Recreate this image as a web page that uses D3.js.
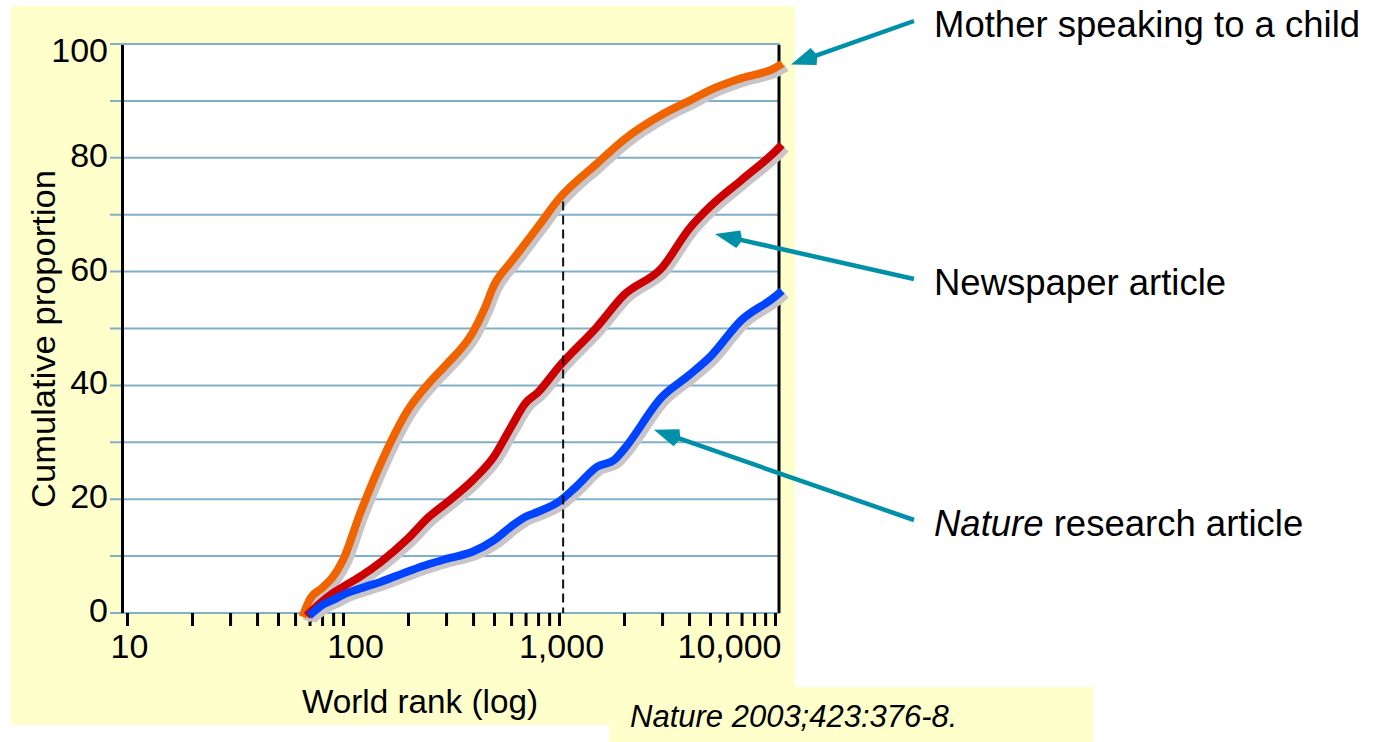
<!DOCTYPE html>
<html>
<head>
<meta charset="utf-8">
<script src="https://cdn.jsdelivr.net/npm/d3@7"></script>
<style>
	body { margin: 0; background: #ffffff; }
	svg { display: block; }
	text { font-family: Arial, "Liberation Sans", sans-serif; fill: #000000; }
</style>
</head>
<body>
<div id="chart"></div>
<script>

// Data: world rank (log) -> cumulative proportion (%)
//
var motherRanks  = [ 66, 70, 80, 90, 100, 120, 150, 200, 250, 300, 400, 450, 500, 600, 700, 800, 1000, 1500, 2000, 3000, 4000, 5000, 7000, 10000, 10435 ];
var motherValues = [ 0, 2.3, 4.4, 6.4, 9.3, 17.5, 26.4, 35.7, 40.4, 43.6, 49.4, 53.3, 57.6, 61.7, 65.0, 67.9, 72.8, 79.0, 83.2, 87.6, 90.0, 91.9, 94.0, 95.8, 96.2 ];

var newsRanks  = [ 70, 80, 90, 100, 120, 150, 200, 250, 300, 400, 500, 600, 700, 800, 1000, 1500, 2000, 3000, 4000, 5000, 7000, 10000, 10435 ];
var newsValues = [ 0, 2.0, 3.5, 4.6, 6.4, 9.0, 13.1, 16.9, 19.3, 23.4, 27.5, 32.7, 36.9, 38.8, 43.3, 50.3, 55.9, 60.7, 67.5, 71.4, 76.1, 81.1, 81.8 ];

var natureRanks  = [ 72, 80, 90, 100, 120, 150, 200, 250, 300, 400, 500, 600, 700, 800, 1000, 1200, 1500, 1800, 2000, 3000, 4000, 5000, 7000, 10000, 10435 ];
var natureValues = [ 0, 1.4, 2.3, 3.2, 4.3, 5.5, 7.3, 8.6, 9.5, 10.8, 12.8, 15.2, 16.9, 17.8, 19.6, 22.2, 25.7, 26.9, 28.8, 38.0, 41.8, 45.0, 51.5, 55.6, 56.2 ];

var xMajorTicks  = [ 10, 100, 1000, 10000 ];
var xTickLabels  = [ "10", "100", "1,000", "10,000" ];
var yTickValues  = [ 0, 20, 40, 60, 80, 100 ];
var yGridValues  = [ 0, 10, 20, 30, 40, 50, 60, 70, 80, 90, 100 ];

var markerRank  = 1045;
var markerValue = 72.3;

var annotationLabels = [ "Mother speaking to a child", "Newspaper article", "research article" ];
var annotationItalic = [ "", "", "Nature" ];
var annotationTipRanks  = [ 11860, 5270, 2750 ];
var annotationTipValues = [ 96.4, 66.6, 32.2 ];

var citation = "Nature 2003;423:376-8.";

var zip = function( ranks, values )
{
	return ranks.map( function( r, i ) { return [ r, values[ i ] ]; } );
};

var series = [
	{ name: "mother", color: "#f06400", points: zip( motherRanks, motherValues ) },
	{ name: "news",   color: "#cc0000", points: zip( newsRanks, newsValues ) },
	{ name: "nature", color: "#0044ff", points: zip( natureRanks, natureValues ) }
];

var svg = d3.select( "#chart" ).append( "svg" )
	.attr( "width", 1380 )
	.attr( "height", 742 );

// Yellow backing panels
//
var yellow = "#ffffcc";
svg.append( "rect" ).attr( "x", 11 ).attr( "y", 6 ).attr( "width", 784 ).attr( "height", 681 ).attr( "fill", yellow );
svg.append( "rect" ).attr( "x", 11 ).attr( "y", 686 ).attr( "width", 598 ).attr( "height", 39 ).attr( "fill", yellow );
svg.append( "rect" ).attr( "x", 609 ).attr( "y", 687 ).attr( "width", 484 ).attr( "height", 55 ).attr( "fill", yellow );

var x = d3.scaleLog().domain( [ 10, 10435 ] ).range( [ 127, 779 ] );
var y = d3.scaleLinear().domain( [ 0, 100 ] ).range( [ 613, 44 ] );

// Plot area
//
svg.append( "rect" )
	.attr( "x", 124 )
	.attr( "y", y( 100 ) + 1 )
	.attr( "width", x.range()[ 1 ] - 124 )
	.attr( "height", y( 0 ) - y( 100 ) - 1 )
	.attr( "fill", "#ffffff" );

svg.append( "g" )
	.selectAll( "line" )
	.data( yGridValues )
	.enter()
	.append( "line" )
	.attr( "x1", 110 )
	.attr( "x2", x.range()[ 1 ] + 1 )
	.attr( "y1", function( d ) { return y( d ); } )
	.attr( "y2", function( d ) { return y( d ); } )
	.attr( "stroke", "#80b0c8" )
	.attr( "stroke-width", 2 );

// Frame: left axis and right border
//
svg.append( "line" )
	.attr( "x1", 122.5 ).attr( "x2", 122.5 )
	.attr( "y1", y( 100 ) + 1 ).attr( "y2", y( 0 ) )
	.attr( "stroke", "#000" ).attr( "stroke-width", 3 );

svg.append( "line" )
	.attr( "x1", x.range()[ 1 ] ).attr( "x2", x.range()[ 1 ] )
	.attr( "y1", y( 100 ) + 1 ).attr( "y2", y( 0 ) )
	.attr( "stroke", "#000" ).attr( "stroke-width", 3 );

// X axis (log)
//
var xTicks = x.ticks().filter( function( d ) { return d <= 10000; } );

var xAxis = svg.append( "g" )
	.attr( "transform", "translate(0," + y( 0 ) + ")" )
	.call( d3.axisBottom( x )
		.tickValues( xTicks )
		.tickSize( 13 )
		.tickFormat( function( d ) {
			var i = xMajorTicks.indexOf( d );
			return i < 0 ? "" : xTickLabels[ i ];
		} ) );

xAxis.select( ".domain" ).remove();
xAxis.selectAll( ".tick line" ).attr( "stroke", "#000" ).attr( "stroke-width", 3 );
xAxis.selectAll( ".tick text" )
	.attr( "y", 45 )
	.attr( "dy", null )
	.attr( "font-size", 34 )
	.attr( "font-family", null )
	.attr( "text-anchor", function( d ) { return d == 10000 ? "end" : "middle"; } )
	.attr( "dx", function( d ) { return d == 10000 ? 6 : ( d == 100 ? 12 : 2 ); } );

// Y axis labels
//
var yAxis = svg.append( "g" )
	.attr( "transform", "translate(108,0)" )
	.call( d3.axisLeft( y ).tickValues( yTickValues ).tickSize( 0 ).tickPadding( 0 ) );

yAxis.select( ".domain" ).remove();
yAxis.selectAll( ".tick text" )
	.attr( "font-size", 34 )
	.attr( "font-family", null )
	.attr( "dy", function( d ) { return d == 100 ? "0.5em" : "0.25em"; } );

// Axis titles
//
svg.append( "text" )
	.attr( "x", 420 )
	.attr( "y", 713 )
	.attr( "text-anchor", "middle" )
	.attr( "font-size", 34 )
	.attr( "textLength", 236 )
	.attr( "lengthAdjust", "spacingAndGlyphs" )
	.text( "World rank (log)" );

svg.append( "text" )
	.attr( "transform", "translate(55,339) rotate(-90)" )
	.attr( "text-anchor", "middle" )
	.attr( "font-size", 34 )
	.attr( "textLength", 338 )
	.attr( "lengthAdjust", "spacingAndGlyphs" )
	.text( "Cumulative proportion" );

// Curves with grey drop shadow
//
var line = d3.line()
	.x( function( d ) { return x( d[ 0 ] ); } )
	.y( function( d ) { return y( d[ 1 ] ); } )
	.curve( d3.curveMonotoneX );

svg.append( "g" )
	.attr( "transform", "translate(4,4)" )
	.selectAll( "path" )
	.data( series )
	.enter()
	.append( "path" )
	.attr( "d", function( s ) { return line( s.points ); } )
	.attr( "fill", "none" )
	.attr( "stroke", "#c8c4c8" )
	.attr( "stroke-width", 8 )
	.attr( "stroke-linecap", "square" );

svg.append( "g" )
	.selectAll( "path" )
	.data( series )
	.enter()
	.append( "path" )
	.attr( "d", function( s ) { return line( s.points ); } )
	.attr( "fill", "none" )
	.attr( "stroke", function( s ) { return s.color; } )
	.attr( "stroke-width", 8 )
	.attr( "stroke-linecap", "square" );

// Dashed marker near rank 1,000
//
svg.append( "line" )
	.attr( "x1", x( markerRank ) ).attr( "x2", x( markerRank ) )
	.attr( "y1", y( markerValue ) ).attr( "y2", y( 0 ) )
	.attr( "stroke", "#111" )
	.attr( "stroke-width", 2 )
	.attr( "stroke-dasharray", "9,5" );

// Annotations with arrows
//
var teal = "#0090a8";
var labelX = 934;
var labelBaselines = [ 37, 295, 536 ];
var tailX = 914;
var tailYs = [ 21, 279, 520 ];

annotationLabels.forEach( function( label, i ) {

	var tip = [ x( annotationTipRanks[ i ] ), y( annotationTipValues[ i ] ) ];
	var tail = [ tailX, tailYs[ i ] ];
	var angle = Math.atan2( tail[ 1 ] - tip[ 1 ], tail[ 0 ] - tip[ 0 ] );
	var headLength = 24, headHalf = 9;
	var base = [ tip[ 0 ] + Math.cos( angle ) * headLength, tip[ 1 ] + Math.sin( angle ) * headLength ];
	var nx = -Math.sin( angle ), ny = Math.cos( angle );

	svg.append( "line" )
		.attr( "x1", tail[ 0 ] ).attr( "y1", tail[ 1 ] )
		.attr( "x2", base[ 0 ] - Math.cos( angle ) * 2 ).attr( "y2", base[ 1 ] - Math.sin( angle ) * 2 )
		.attr( "stroke", teal )
		.attr( "stroke-width", 4.5 );

	svg.append( "polygon" )
		.attr( "points", [
			tip,
			[ base[ 0 ] + nx * headHalf, base[ 1 ] + ny * headHalf ],
			[ base[ 0 ] + Math.cos( angle ) * 4, base[ 1 ] + Math.sin( angle ) * 4 ],
			[ base[ 0 ] - nx * headHalf, base[ 1 ] - ny * headHalf ]
		].map( function( p ) { return p.join( "," ); } ).join( " " ) )
		.attr( "fill", teal );

	var text = svg.append( "text" )
		.attr( "x", labelX )
		.attr( "y", labelBaselines[ i ] )
		.attr( "font-size", 36.5 );

	if( annotationItalic[ i ] )
	{
		text.append( "tspan" ).attr( "font-style", "italic" ).text( annotationItalic[ i ] + " " );
	}
	text.append( "tspan" ).text( label );
} );

// Citation
//
svg.append( "text" )
	.attr( "x", 630 )
	.attr( "y", 727 )
	.attr( "font-size", 31 )
	.attr( "font-style", "italic" )
	.text( citation );

</script>
</body>
</html>
